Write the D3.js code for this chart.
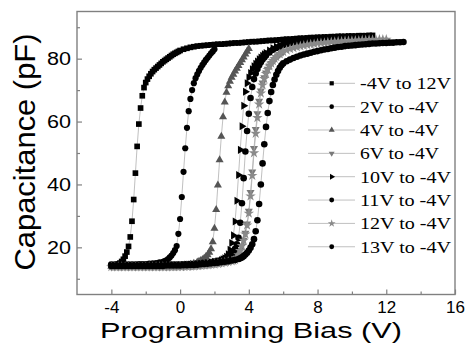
<!DOCTYPE html>
<html>
<head>
<meta charset="utf-8">
<script src="https://cdn.jsdelivr.net/npm/d3@7"></script>
<style>
  body { margin: 0; background: #fff; }
</style>
</head>
<body>
<script>
// C-V sweeps: [programming bias (V), capacitance (pF)]
var dataM4to12 = [[-4.0,14.3],[-3.8,14.4],[-3.6,14.7],[-3.5,15.0],[-3.4,15.5],[-3.3,16.2],[-3.2,17.2],[-3.1,18.5],[-3.0,20.3],[-2.9,23.3],[-2.8,28.3],[-2.7,35.2],[-2.6,43.6],[-2.5,52.1],[-2.4,59.2],[-2.3,64.3],[-2.2,68.2],[-2.1,70.8],[-2.0,72.4],[-1.9,73.5],[-1.8,74.4],[-1.7,75.2],[-1.6,75.9],[-1.5,76.5],[-1.4,77.0],[-1.3,77.5],[-1.2,78.0],[-1.1,78.5],[-1.0,79.0],[-0.9,79.4],[-0.8,79.8],[-0.7,80.2],[-0.6,80.6],[-0.5,81.0],[-0.4,81.4],[-0.3,81.7],[-0.2,82.0],[-0.1,82.3],[0.0,82.6],[0.2,83.0],[0.4,83.3],[0.6,83.6],[0.8,83.8],[1.0,84.0],[1.2,84.1],[1.4,84.2],[1.6,84.3],[1.8,84.4],[2.0,84.5],[2.2,84.6],[2.4,84.6],[2.6,84.7],[2.8,84.8],[3.0,84.9],[3.2,85.0],[3.4,85.0],[3.6,85.1],[3.8,85.2],[4.0,85.3],[4.2,85.4],[4.4,85.4],[4.6,85.5],[4.8,85.6],[5.0,85.7],[5.2,85.8],[5.4,85.8],[5.6,85.9],[5.8,86.0],[6.0,86.1],[6.2,86.2],[6.4,86.2],[6.6,86.3],[6.8,86.4],[7.0,86.5],[7.2,86.5],[7.4,86.6],[7.6,86.7],[7.8,86.7],[8.0,86.8],[8.2,86.8],[8.4,86.9],[8.6,86.9],[8.8,87.0],[9.0,87.0],[9.2,87.1],[9.4,87.1],[9.6,87.1],[9.8,87.2],[10.0,87.2],[10.2,87.2],[10.4,87.3],[10.6,87.3],[10.8,87.3],[11.0,87.4],[11.2,87.4]];

var data2V = [[-4.0,14.6],[-3.8,14.6],[-3.6,14.6],[-3.4,14.6],[-3.2,14.6],[-3.0,14.6],[-2.8,14.6],[-2.6,14.6],[-2.4,14.7],[-2.2,14.7],[-2.0,14.7],[-1.8,14.8],[-1.6,14.9],[-1.4,15.0],[-1.2,15.2],[-1.0,15.4],[-0.9,15.6],[-0.8,15.9],[-0.7,16.3],[-0.6,16.8],[-0.5,17.4],[-0.4,18.2],[-0.3,19.1],[-0.2,20.4],[-0.1,24.3],[0.0,29.0],[0.1,36.0],[0.2,44.0],[0.3,51.5],[0.4,58.0],[0.5,63.3],[0.6,67.2],[0.7,70.0],[0.8,72.2],[0.9,73.8],[1.0,75.0],[1.1,76.1],[1.2,77.1],[1.3,78.0],[1.4,78.8],[1.5,79.6],[1.6,80.3],[1.7,81.0],[1.8,81.7],[1.9,82.3],[2.0,83.0]];

var data4V = [[-4.0,13.9],[-3.8,13.9],[-3.6,13.9],[-3.4,13.9],[-3.2,13.9],[-3.0,13.9],[-2.8,13.9],[-2.6,13.9],[-2.4,13.9],[-2.2,13.9],[-2.0,13.9],[-1.8,13.9],[-1.6,13.9],[-1.4,13.9],[-1.2,14.0],[-1.0,14.0],[-0.8,14.0],[-0.6,14.0],[-0.4,14.0],[-0.2,14.0],[0.0,14.1],[0.2,14.2],[0.4,14.4],[0.6,14.6],[0.8,14.9],[1.0,15.3],[1.1,15.5],[1.2,15.8],[1.3,16.1],[1.4,16.5],[1.5,17.0],[1.6,17.6],[1.7,18.4],[1.8,19.5],[1.9,21.7],[2.0,26.0],[2.1,32.0],[2.2,39.8],[2.3,47.8],[2.4,55.3],[2.5,61.5],[2.6,66.2],[2.7,69.3],[2.8,71.3],[2.9,72.8],[3.0,74.0],[3.1,75.0],[3.2,76.0],[3.3,76.9],[3.4,77.8],[3.5,78.7],[3.6,79.6],[3.7,80.5],[3.8,81.4],[3.9,82.3],[4.0,83.2]];

var data6V = [[-4.0,13.8],[-3.8,13.8],[-3.6,13.8],[-3.4,13.8],[-3.2,13.8],[-3.0,13.8],[-2.8,13.8],[-2.6,13.8],[-2.4,13.8],[-2.2,13.8],[-2.0,13.8],[-1.8,13.8],[-1.6,13.8],[-1.4,13.8],[-1.2,13.8],[-1.0,13.8],[-0.8,13.8],[-0.6,13.8],[-0.4,13.9],[-0.2,13.9],[0.0,13.9],[0.2,13.9],[0.4,14.0],[0.6,14.0],[0.8,14.1],[1.0,14.2],[1.2,14.3],[1.4,14.4],[1.6,14.5],[1.8,14.6],[2.0,14.8],[2.2,14.9],[2.4,15.1],[2.6,15.3],[2.8,15.5],[3.0,15.8],[3.1,16.1],[3.2,16.5],[3.3,17.1],[3.4,17.9],[3.5,19.0],[3.6,20.5],[3.7,22.3],[3.8,24.5],[3.9,27.5],[4.0,31.5],[4.1,37.5],[4.2,44.0],[4.3,51.5],[4.4,57.5],[4.5,62.5],[4.6,66.5],[4.7,69.8],[4.8,72.3],[4.9,74.0],[5.0,75.5],[5.1,76.7],[5.2,77.7],[5.3,78.5],[5.4,79.2],[5.5,79.8],[5.6,80.4],[5.7,80.9],[5.8,81.4],[5.9,81.8],[6.0,82.2]];

var data10V = [[-4.0,14.2],[-3.8,14.2],[-3.6,14.2],[-3.4,14.2],[-3.2,14.2],[-3.0,14.2],[-2.8,14.2],[-2.6,14.2],[-2.4,14.2],[-2.2,14.2],[-2.0,14.2],[-1.8,14.2],[-1.6,14.2],[-1.4,14.2],[-1.2,14.2],[-1.0,14.3],[-0.8,14.3],[-0.6,14.3],[-0.4,14.3],[-0.2,14.3],[0.0,14.4],[0.2,14.4],[0.4,14.5],[0.6,14.5],[0.8,14.6],[1.0,14.7],[1.2,14.8],[1.4,14.9],[1.6,15.0],[1.8,15.2],[2.0,15.4],[2.2,15.6],[2.4,15.9],[2.5,16.2],[2.6,16.5],[2.7,17.0],[2.8,17.8],[2.9,19.2],[3.0,21.4],[3.1,23.8],[3.2,28.2],[3.3,34.8],[3.4,43.0],[3.5,51.0],[3.6,58.5],[3.7,65.0],[3.8,69.5],[3.9,72.2],[4.0,74.0],[4.1,75.4],[4.2,76.6],[4.3,77.6],[4.4,78.4],[4.5,79.1],[4.6,79.8],[4.7,80.4],[4.8,80.9],[4.9,81.4],[5.0,81.8],[5.2,82.6],[5.4,83.3],[5.6,83.8],[5.8,84.2],[6.0,84.6],[6.2,84.9],[6.4,85.2],[6.6,85.4],[6.8,85.6],[7.0,85.8],[7.2,85.9],[7.4,86.0],[7.6,86.1],[7.8,86.2],[8.0,86.3],[8.2,86.4],[8.4,86.4],[8.6,86.5],[8.8,86.5],[9.0,86.6],[9.2,86.6],[9.4,86.7],[9.6,86.7],[9.8,86.8],[10.0,86.8]];

var data11V = [[-4.0,14.4],[-3.8,14.4],[-3.6,14.4],[-3.4,14.4],[-3.2,14.4],[-3.0,14.4],[-2.8,14.4],[-2.6,14.4],[-2.4,14.4],[-2.2,14.4],[-2.0,14.4],[-1.8,14.4],[-1.6,14.4],[-1.4,14.4],[-1.2,14.4],[-1.0,14.4],[-0.8,14.5],[-0.6,14.5],[-0.4,14.5],[-0.2,14.5],[0.0,14.5],[0.2,14.6],[0.4,14.6],[0.6,14.7],[0.8,14.7],[1.0,14.8],[1.2,14.9],[1.4,15.0],[1.6,15.1],[1.8,15.3],[2.0,15.5],[2.2,15.7],[2.4,16.0],[2.6,16.4],[2.8,16.9],[2.9,17.3],[3.0,17.8],[3.1,18.5],[3.2,19.5],[3.3,21.0],[3.4,23.0],[3.5,27.8],[3.6,34.0],[3.7,42.0],[3.8,50.5],[3.9,57.0],[4.0,62.5],[4.1,67.5],[4.2,71.0],[4.3,73.5],[4.4,75.3],[4.5,76.7],[4.6,77.9],[4.7,78.9],[4.8,79.7],[4.9,80.4],[5.0,81.0],[5.2,82.0],[5.4,82.8],[5.6,83.4],[5.8,83.9],[6.0,84.3],[6.2,84.6],[6.4,84.9],[6.6,85.1],[6.8,85.3],[7.0,85.5],[7.2,85.7],[7.4,85.8],[7.6,85.9],[7.8,86.0],[8.0,86.1],[8.2,86.2],[8.4,86.3],[8.6,86.4],[8.8,86.4],[9.0,86.5],[9.2,86.5],[9.4,86.6],[9.6,86.6],[9.8,86.7],[10.0,86.7],[10.2,86.8],[10.4,86.8],[10.6,86.8],[10.8,86.9],[11.0,86.9]];

var data12V = [[-4.0,13.8],[-3.8,13.8],[-3.6,13.8],[-3.4,13.8],[-3.2,13.8],[-3.0,13.8],[-2.8,13.8],[-2.6,13.8],[-2.4,13.8],[-2.2,13.8],[-2.0,13.8],[-1.8,13.8],[-1.6,13.8],[-1.4,13.8],[-1.2,13.8],[-1.0,13.8],[-0.8,13.8],[-0.6,13.8],[-0.4,13.8],[-0.2,13.8],[0.0,13.9],[0.2,13.9],[0.4,13.9],[0.6,14.0],[0.8,14.0],[1.0,14.1],[1.2,14.2],[1.4,14.3],[1.6,14.4],[1.8,14.5],[2.0,14.6],[2.2,14.8],[2.4,15.0],[2.6,15.2],[2.8,15.4],[3.0,15.6],[3.1,15.8],[3.2,16.0],[3.3,16.6],[3.4,17.6],[3.5,18.9],[3.6,20.5],[3.7,22.2],[3.8,24.2],[3.9,27.0],[4.0,30.8],[4.1,36.3],[4.2,42.8],[4.3,50.0],[4.4,56.2],[4.5,61.2],[4.6,65.5],[4.7,69.0],[4.8,71.6],[4.9,73.6],[5.0,75.2],[5.1,76.5],[5.2,77.6],[5.3,78.5],[5.4,79.3],[5.5,80.0],[5.6,80.6],[5.8,81.5],[6.0,82.2],[6.2,82.7],[6.4,83.1],[6.6,83.4],[6.8,83.7],[7.0,84.0],[7.2,84.2],[7.4,84.4],[7.6,84.6],[7.8,84.7],[8.0,84.9],[8.2,85.0],[8.4,85.1],[8.6,85.2],[8.8,85.3],[9.0,85.4],[9.2,85.5],[9.4,85.5],[9.6,85.6],[9.8,85.7],[10.0,85.7],[10.2,85.8],[10.4,85.8],[10.6,85.9],[10.8,85.9],[11.0,86.0],[11.2,86.0],[11.4,86.0],[11.6,86.1],[11.8,86.1],[12.0,86.1]];

var data13V = [[-4.0,14.1],[-3.8,14.1],[-3.6,14.1],[-3.4,14.1],[-3.2,14.1],[-3.0,14.1],[-2.8,14.1],[-2.6,14.1],[-2.4,14.1],[-2.2,14.1],[-2.0,14.1],[-1.8,14.1],[-1.6,14.1],[-1.4,14.1],[-1.2,14.1],[-1.0,14.1],[-0.8,14.2],[-0.6,14.2],[-0.4,14.2],[-0.2,14.2],[0.0,14.2],[0.2,14.3],[0.4,14.3],[0.6,14.4],[0.8,14.4],[1.0,14.5],[1.2,14.6],[1.4,14.7],[1.6,14.8],[1.8,14.9],[2.0,15.0],[2.2,15.1],[2.4,15.3],[2.6,15.4],[2.8,15.6],[3.0,15.8],[3.2,16.0],[3.4,16.3],[3.5,16.5],[3.6,16.8],[3.7,17.2],[3.8,17.7],[3.9,18.3],[4.0,19.0],[4.1,19.9],[4.2,21.0],[4.3,22.6],[4.4,25.1],[4.5,28.6],[4.6,33.8],[4.7,40.0],[4.8,46.7],[4.9,52.8],[5.0,58.3],[5.1,62.7],[5.2,66.5],[5.3,69.4],[5.4,71.6],[5.5,73.4],[5.6,74.9],[5.7,76.1],[5.8,77.1],[5.9,77.9],[6.0,78.5],[6.2,79.2],[6.4,79.7],[6.6,80.2],[6.8,80.6],[7.0,81.0],[7.2,81.3],[7.4,81.6],[7.6,81.9],[7.8,82.2],[8.0,82.4],[8.2,82.7],[8.4,82.9],[8.6,83.1],[8.8,83.3],[9.0,83.5],[9.2,83.7],[9.4,83.8],[9.6,84.0],[9.8,84.1],[10.0,84.2],[10.2,84.3],[10.4,84.4],[10.6,84.5],[10.8,84.6],[11.0,84.7],[11.2,84.8],[11.4,84.8],[11.6,84.9],[11.8,85.0],[12.0,85.0],[12.2,85.1],[12.4,85.1],[12.6,85.2],[12.8,85.2],[13.0,85.3]];

var legendLabels = ["-4V to 12V", "2V to -4V", "4V to -4V", "6V to -4V", "10V to -4V", "11V to -4V", "12V to -4V", "13V to -4V"];
var xTicks = [-4, 0, 4, 8, 12, 16];
var xMinor = [-2, 2, 6, 10, 14];
var yTicks = [20, 40, 60, 80];
var yMinor = [10, 30, 50, 70, 90];

// canvas size
var width = 469;
var height = 343;

var svg = d3.select('body').append('svg')
    .attr('width', width)
    .attr('height', height);

// plot box (window.top is reserved, so use box* names)
var boxLeft = 77, boxRight = 455, boxTop = 11.5, boxBottom = 294.5;

var x = d3.scaleLinear().domain([-6, 16]).range([boxLeft, boxRight]);
var y = d3.scaleLinear().domain([5, 95]).range([boxBottom, boxTop]);

// styles per sweep, in legend order
var series = [
  { data: dataM4to12, shape: d3.symbolSquare,   size: 32, rot: 0,   fill: '#000' },
  { data: data2V,     shape: d3.symbolCircle,   size: 30, rot: 0,   fill: '#000' },
  { data: data4V,     shape: d3.symbolTriangle, size: 28, rot: 0,   fill: '#555' },
  { data: data6V,     shape: d3.symbolTriangle, size: 28, rot: 180, fill: '#7a7a7a' },
  { data: data10V,    shape: d3.symbolTriangle, size: 28, rot: 90,  fill: '#000' },
  { data: data11V,    shape: d3.symbolCircle,   size: 34, rot: 0,   fill: '#000' },
  { data: data12V,    shape: d3.symbolStar,     size: 34, rot: 0,   fill: '#8a8a8a' },
  { data: data13V,    shape: d3.symbolCircle,   size: 34, rot: 0,   fill: '#000' }
];

var line = d3.line()
    .x(function(d) { return x(d[0]); })
    .y(function(d) { return y(d[1]); });

var plot = svg.append('g');

series.forEach(function(s) {
  plot.append('path')
      .datum(s.data)
      .attr('d', line)
      .attr('fill', 'none')
      .attr('stroke', '#b0b0b0')
      .attr('stroke-width', 0.8);
  plot.selectAll(null)
      .data(s.data)
      .enter().append('path')
      .attr('d', d3.symbol().type(s.shape).size(s.size))
      .attr('transform', function(d) {
        return 'translate(' + x(d[0]) + ',' + y(d[1]) + ') rotate(' + s.rot + ')';
      })
      .attr('fill', s.fill);
});

// frame
svg.append('rect')
    .attr('x', boxLeft).attr('y', boxTop)
    .attr('width', boxRight - boxLeft).attr('height', boxBottom - boxTop)
    .attr('fill', 'none')
    .attr('stroke', '#808080')
    .attr('stroke-width', 1.4);

var sansFont = '"Liberation Sans", Arial, sans-serif';
var plain = function(d) { return String(d); };   // keep ascii hyphen for negatives

// x axis, ticks pointing in
var xAxis = svg.append('g')
    .attr('transform', 'translate(0,' + boxBottom + ')')
    .call(d3.axisBottom(x).tickValues(xTicks).tickSize(-5).tickPadding(6).tickFormat(plain));
var xMinorAxis = svg.append('g')
    .attr('transform', 'translate(0,' + boxBottom + ')')
    .call(d3.axisBottom(x).tickValues(xMinor).tickSize(-3));

// y axis
var yAxis = svg.append('g')
    .attr('transform', 'translate(' + boxLeft + ',0)')
    .call(d3.axisLeft(y).tickValues(yTicks).tickSize(-5).tickPadding(6).tickFormat(plain));
var yMinorAxis = svg.append('g')
    .attr('transform', 'translate(' + boxLeft + ',0)')
    .call(d3.axisLeft(y).tickValues(yMinor).tickSize(-3));

xMinorAxis.selectAll('.tick text').remove();
yMinorAxis.selectAll('.tick text').remove();
svg.selectAll('.domain').remove();
svg.selectAll('.tick line').attr('stroke', '#808080').attr('stroke-width', 1.2);
svg.selectAll('.tick text')
    .attr('fill', '#000')
    .style('font-family', sansFont)
    .style('font-size', '17px');
yAxis.selectAll('.tick text')
    .style('font-size', '18px')
    .attr('textLength', 24)
    .attr('lengthAdjust', 'spacingAndGlyphs');

// axis titles
svg.append('text')
    .attr('transform', 'rotate(-90)')
    .attr('x', -152).attr('y', 35)
    .attr('text-anchor', 'middle')
    .attr('textLength', 237)
    .attr('lengthAdjust', 'spacingAndGlyphs')
    .style('font-family', sansFont)
    .style('font-size', '30px')
    .text('Capacitance (pF)');

svg.append('text')
    .attr('x', 251).attr('y', 337.5)
    .attr('text-anchor', 'middle')
    .attr('textLength', 302)
    .attr('lengthAdjust', 'spacingAndGlyphs')
    .style('font-family', sansFont)
    .style('font-size', '22.5px')
    .text('Programming Bias (V)');

// legend
var legend = svg.append('g');
legendLabels.forEach(function(label, i) {
  var s = series[i];
  var ly = 83.3 + i * 23.35;
  legend.append('line')
      .attr('x1', 308).attr('x2', 355)
      .attr('y1', ly).attr('y2', ly)
      .attr('stroke', '#c0c0c0')
      .attr('stroke-width', 1);
  legend.append('path')
      .attr('d', d3.symbol().type(s.shape).size(s.size * 0.55))
      .attr('transform', 'translate(331.7,' + ly + ') rotate(' + s.rot + ')')
      .attr('fill', s.fill);
  legend.append('text')
      .attr('x', 360).attr('y', ly + 6)
      .attr('textLength', label.length > 9 ? 91 : 79)
      .attr('lengthAdjust', 'spacingAndGlyphs')
      .style('font-family', '"Liberation Serif", "Times New Roman", serif')
      .style('font-size', '16.5px')
      .text(label);
});
</script>
</body>
</html>
